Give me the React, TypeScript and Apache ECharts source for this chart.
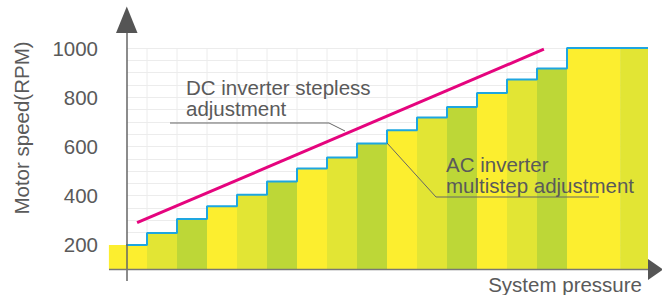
import React, { useEffect, useRef } from 'react';
import * as echarts from 'echarts';

// x unit = one pressure step (30px); edges of each speed step
const stepEdges = [-0.27, 1, 2, 3, 4, 5, 6, 7, 8, 9, 10, 11, 12, 13, 14, 15, 16.77, 17.7];
const stepValues = [200, 248, 305, 357, 404, 458, 510, 555, 612, 666, 718, 760, 817, 872, 917, 1000, 1000];
const stepShades = ['yellow', 'lime', 'green', 'yellow', 'lime', 'green', 'yellow', 'lime', 'green', 'yellow', 'lime', 'green', 'yellow', 'lime', 'green', 'yellow', 'lime'];
const steplessLine = [[0.67, 290], [14.23, 995]];
const yTickLabels = [200, 400, 600, 800, 1000];
const gridXs = [1, 2, 3, 4, 5, 6, 7, 8, 9, 10, 11, 12, 13, 14, 15, 16, 17];

const shadeColor: Record<string, string> = { yellow: '#FCEE2F', lime: '#E2E534', green: '#BDD737' };
const FONT = "'Liberation Sans', Arial, Helvetica, sans-serif";
const TXT = '#5a5a5a';

function txt(text: string, x: number, y: number, align: string, extra: any = {}, lineHeight = 21) {
  return {
    type: 'text', x, y, z: 100, ...extra,
    style: { text, fontSize: 20.5, lineHeight, fontFamily: FONT, fill: TXT, align, textAlign: align, verticalAlign: 'middle', textVerticalAlign: 'middle' },
  };
}

export default function App() {
  const ref = useRef<HTMLDivElement>(null);
  useEffect(() => {
    const chart = echarts.init(ref.current!, null, { renderer: 'svg' });
    const bars = stepValues.map((v, i) => [stepEdges[i], stepEdges[i + 1], v, i]);
    const stepLine = stepValues.map((v, i) => [stepEdges[i], v]);
    stepLine.push([stepEdges[stepEdges.length - 1], stepValues[stepValues.length - 1]]);
    chart.setOption({
      animation: false,
      grid: { left: 127, right: 14, top: 48, bottom: 25.5, containLabel: false },
      xAxis: {
        type: 'value', min: 1 / 3, max: 17.7,
        axisLine: { show: false }, axisTick: { show: false }, axisLabel: { show: false }, splitLine: { show: false },
      },
      yAxis: {
        type: 'value', min: 100, max: 1000, interval: 50,
        axisLine: { show: false }, axisTick: { show: false },
        axisLabel: {
          margin: 29, fontSize: 20.5, fontFamily: FONT, color: TXT,
          formatter: (v: number) => (yTickLabels.includes(v) ? String(v) : ''),
        },
        splitLine: { lineStyle: { color: '#ececec', width: 1 } },
      },
      series: [
        {
          type: 'custom', z: 1, silent: true, clip: false,
          data: gridXs.map((x) => [x]),
          renderItem: (params: any, api: any) => {
            const a = api.coord([api.value(0), 1000]);
            const b = api.coord([api.value(0), 100]);
            return { type: 'line', shape: { x1: a[0], y1: a[1], x2: b[0], y2: b[1] }, style: { stroke: '#ececec', lineWidth: 1 } };
          },
        },
        {
          type: 'custom', z: 2, silent: true, clip: false,
          data: bars,
          encode: { x: [0, 1], y: 2 },
          renderItem: (params: any, api: any) => {
            const p0 = api.coord([api.value(0), api.value(2)]);
            const p1 = api.coord([api.value(1), 100]);
            const idx = api.value(3);
            return {
              type: 'rect',
              shape: { x: p0[0], y: p0[1], width: p1[0] - p0[0], height: p1[1] - p0[1] },
              style: { fill: shadeColor[stepShades[idx]] },
            };
          },
        },
        {
          type: 'line', z: 3, step: 'end', clip: false, showSymbol: false, silent: true,
          data: stepLine,
          lineStyle: { color: '#1EA6E0', width: 2 },
        },
        {
          type: 'line', z: 4, clip: false, showSymbol: false, silent: true,
          data: steplessLine,
          lineStyle: { color: '#E5047E', width: 3, cap: 'butt' },
        },
      ],
      graphic: [
        { type: 'line', z: 95, shape: { x1: 127, y1: 281, x2: 127, y2: 30 }, style: { stroke: '#666', lineWidth: 1.5 } },
        { type: 'polygon', z: 95, shape: { points: [[116, 33], [137.5, 33], [126.8, 6.5]] }, style: { fill: '#555' } },
        { type: 'line', z: 95, shape: { x1: 109, y1: 269.5, x2: 650, y2: 269.5 }, style: { stroke: '#777', lineWidth: 1.5 } },
        { type: 'polygon', z: 95, shape: { points: [[648, 259], [648, 280], [663, 269.5]] }, style: { fill: '#555' } },
        { type: 'polyline', z: 95, shape: { points: [[170, 123], [329, 123], [345, 131]] }, style: { stroke: '#666', lineWidth: 1, fill: null } },
        { type: 'polyline', z: 95, shape: { points: [[387, 143], [436, 197], [599, 197]] }, style: { stroke: '#666', lineWidth: 1, fill: null } },
        txt('DC inverter stepless\nadjustment', 186, 97.5, 'left', {}, 21),
        txt('AC inverter\nmultistep adjustment', 446, 174.5, 'left', {}, 21),
        txt('System pressure', 642, 284.5, 'right'),
        txt('Motor speed(RPM)', 21, 128, 'center', { rotation: Math.PI / 2 }),
      ],
    });
    return () => chart.dispose();
  }, []);
  return <div ref={ref} style={{ position: 'absolute', left: 0, top: 0, width: 662, height: 295 }} />;
}
